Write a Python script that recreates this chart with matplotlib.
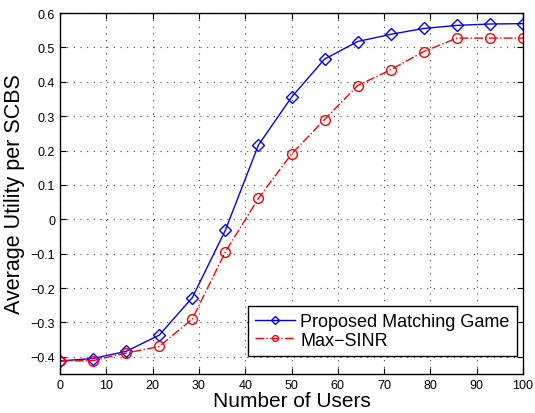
import matplotlib
matplotlib.use('Agg')
import matplotlib.pyplot as plt
import numpy as np

plt.rcParams['font.family'] = ['Liberation Sans', 'DejaVu Sans']

# data
users = [0, 7.14, 14.29, 21.43, 28.57, 35.71, 42.86, 50, 57.14, 64.29, 71.43, 78.57, 85.71, 92.86, 100]
matching = [-0.412, -0.405, -0.384, -0.337, -0.228, -0.032, 0.216, 0.355, 0.466, 0.517, 0.538, 0.555, 0.564, 0.568, 0.569]
max_sinr = [-0.412, -0.411, -0.389, -0.370, -0.290, -0.095, 0.061, 0.190, 0.290, 0.389, 0.435, 0.488, 0.527, 0.527, 0.527]

fig = plt.figure(figsize=(5.35, 4.14), dpi=100)
ax = fig.add_axes([60/535, 1 - 375/414, 463/535, 361/414])

ax.plot(users, matching, '-', color='blue', lw=1.0, marker='D', ms=6.5, mfc='none', mec='blue', mew=1.0,
        label='Proposed Matching Game')
ax.plot(users, max_sinr, '-.', color='red', lw=1.0, marker='o', ms=7, mfc='none', mec='red', mew=1.0,
        label='Max\u2212SINR')

ax.set_xlim(0, 100)
ax.set_ylim(-0.45, 0.6)
ax.set_xticks(np.arange(0, 101, 10))
ax.set_yticks(np.round(np.arange(-0.4, 0.61, 0.1), 1))
ax.set_yticklabels(['\u22120.4', '\u22120.3', '\u22120.2', '\u22120.1', '0', '0.1', '0.2', '0.3', '0.4', '0.5', '0.6'])
ax.tick_params(direction='in', top=True, right=True, labelsize=9, length=4)
ax.grid(True, linestyle=(0, (1, 5)), color='#444444', lw=0.8)
for s in ax.spines.values():
    s.set_linewidth(1.0)

ax.set_xlabel('Number of Users', fontsize=15, labelpad=0)
ax.set_ylabel('Average Utility per SCBS', fontsize=15.5, labelpad=4)

leg = ax.legend(loc='lower right', bbox_to_anchor=(0.987, 0.05), fontsize=13, frameon=True,
                fancybox=False, edgecolor='black', borderaxespad=0, handlelength=2.2,
                handletextpad=0.3, borderpad=0.4, labelspacing=0.1, markerscale=0.6, framealpha=1)
leg.get_frame().set_linewidth(1.0)

fig.savefig('out.png', dpi=100)
